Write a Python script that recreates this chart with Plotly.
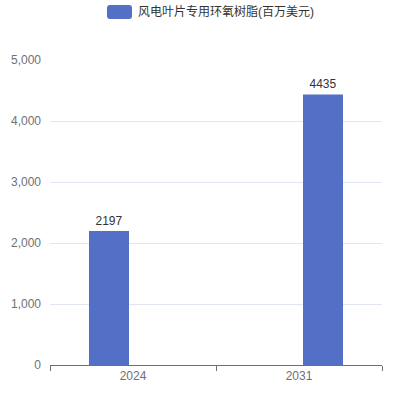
import plotly.graph_objects as go

categories = ["2024", "2031"]
series_name = "风电叶片专用环氧树脂(百万美元)"
values_a = [2197, None]
values_b = [None, 4435]
y_ticks = [0, 1000, 2000, 3000, 4000, 5000]

color = "#5470C6"
axis_color = "#6E7079"
font_main = "Liberation Sans, Noto Sans CJK SC, sans-serif"

# plot area in picture: x 50..382, y 60..365
L, R, T, B = 50, 382, 60, 365
W = H = 398
PW, PH = R - L, B - T

fig = go.Figure()
for vals in (values_a, values_b):
    fig.add_trace(go.Bar(
        x=categories, y=vals, name=series_name, marker_color=color,
        marker_line_width=0,
        text=[("" if v is None else str(v)) for v in vals],
        textposition="outside", textfont=dict(size=12, color="#333", family=font_main),
        cliponaxis=False, showlegend=False,
    ))

fig.update_layout(
    width=W, height=H,
    margin=dict(l=L, r=W - R, t=T, b=H - B),
    paper_bgcolor="white", plot_bgcolor="white",
    barmode="group", bargap=0.4217, bargroupgap=0.1667,
    font=dict(family=font_main, size=12, color=axis_color),
    xaxis=dict(
        type="category", showline=True, linecolor=axis_color, linewidth=1,
        ticks="outside", tickson="boundaries", ticklen=5, tickcolor=axis_color,
        showgrid=False, tickfont=dict(size=12, color=axis_color),
    ),
    yaxis=dict(
        range=[0, 5000], tickvals=y_ticks, tickformat=",", showline=False,
        gridcolor="#E0E6F1", gridwidth=1, zeroline=False,
        tickfont=dict(size=12, color=axis_color), ticks="", ticklabelstandoff=8,
    ),
)

def px_x(x):
    return (x - L) / PW

def px_y(y):
    return (B - y) / PH

# legend (custom drawn): rounded rectangle + text
x0, x1, y0, y1, r = 107, 132, 5, 19, 3
path = (
    f"M {px_x(x0 + r)},{px_y(y0)} L {px_x(x1 - r)},{px_y(y0)} "
    f"Q {px_x(x1)},{px_y(y0)} {px_x(x1)},{px_y(y0 + r)} "
    f"L {px_x(x1)},{px_y(y1 - r)} Q {px_x(x1)},{px_y(y1)} {px_x(x1 - r)},{px_y(y1)} "
    f"L {px_x(x0 + r)},{px_y(y1)} Q {px_x(x0)},{px_y(y1)} {px_x(x0)},{px_y(y1 - r)} "
    f"L {px_x(x0)},{px_y(y0 + r)} Q {px_x(x0)},{px_y(y0)} {px_x(x0 + r)},{px_y(y0)} Z"
)
fig.add_shape(type="path", xref="paper", yref="paper", path=path,
              fillcolor=color, line_width=0)
fig.add_annotation(text=series_name, xref="paper", yref="paper",
                   x=px_x(136), y=px_y(12),
                   xanchor="left", yanchor="middle", showarrow=False,
                   font=dict(size=12, color="#333", family=font_main))

fig.write_html("out.html", config={"displayModeBar": False},
               post_script="document.body.style.margin='0px';")
